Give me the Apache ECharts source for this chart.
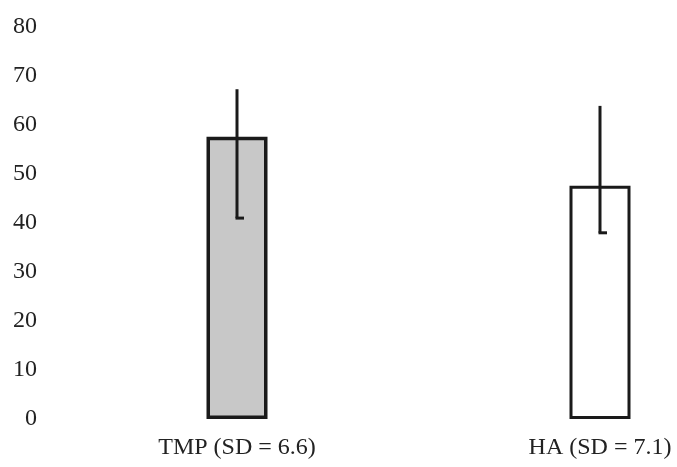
<!DOCTYPE html>
<html>
<head>
<meta charset="utf-8">
<script src="https://cdn.jsdelivr.net/npm/echarts@6/dist/echarts.min.js"></script>
<style>html,body{margin:0;padding:0;background:#fff;}#c{width:677px;height:467px;}</style>
</head>
<body>
<div id="c"></div>
<script>
var categories = ['TMP (SD = 6.6)', 'HA (SD = 7.1)'];
var means = [57.6, 47.6];
var errHigh = [67.3, 63.9];
var errLow = [41.0, 38.0];
var barColors = ['#c8c8c8', '#ffffff'];

var chart = echarts.init(document.getElementById('c'), null, {renderer: 'canvas'});
var font = '"Liberation Serif", "DejaVu Serif", serif';
chart.setOption({
  animation: false,
  backgroundColor: '#ffffff',
  grid: {left: 237, right: 77, top: 27, bottom: 48},
  xAxis: {
    type: 'category',
    data: categories,
    boundaryGap: false,
    axisLine: {show: false},
    axisTick: {show: false},
    splitLine: {show: false},
    axisLabel: {color: '#222', fontFamily: font, fontSize: 24, margin: 17}
  },
  yAxis: {
    type: 'value',
    min: 0, max: 80, interval: 10,
    offset: 191,
    axisLine: {show: false},
    axisTick: {show: false},
    splitLine: {show: false},
    axisLabel: {color: '#222', fontFamily: font, fontSize: 24, margin: 9}
  },
  series: [
    {
      type: 'bar',
      barWidth: 61,
      data: means.map(function (v, i) {
        return {value: v, itemStyle: {color: barColors[i], borderColor: '#1a1a1a', borderWidth: i === 0 ? 3.5 : 3}};
      }),
      z: 2
    },
    {
      type: 'custom',
      z: 5,
      data: categories.map(function (c, i) { return [i, errLow[i], errHigh[i]]; }),
      renderItem: function (params, api) {
        var lo = api.coord([api.value(0), api.value(1)]);
        var hi = api.coord([api.value(0), api.value(2)]);
        var x = lo[0];
        return {
          type: 'group',
          children: [
            {type: 'line', shape: {x1: x, y1: hi[1], x2: x, y2: lo[1]}, style: {stroke: '#1a1a1a', lineWidth: 3}},
            {type: 'line', shape: {x1: x - 1.5, y1: lo[1], x2: x + 7, y2: lo[1]}, style: {stroke: '#1a1a1a', lineWidth: 3}}
          ]
        };
      }
    }
  ]
});
</script>
</body>
</html>
